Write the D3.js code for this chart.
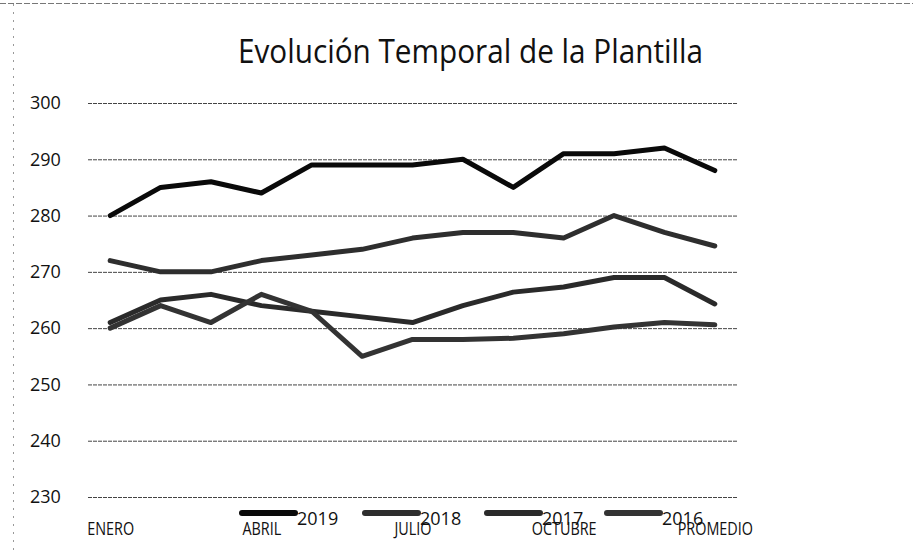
<!DOCTYPE html>
<html><head><meta charset="utf-8">
<script src="https://cdn.jsdelivr.net/npm/d3@7"></script>
<style>body{margin:0;background:#fff}svg{display:block}</style>
</head><body>
<svg id="c" width="913" height="551"></svg>
<script>
const months = ["ENERO","FEBRERO","MARZO","ABRIL","MAYO","JUNIO","JULIO","AGOSTO","SEPTIEMBRE","OCTUBRE","NOVIEMBRE","DICIEMBRE","PROMEDIO"];
const shownLabels = ["ENERO","ABRIL","JULIO","OCTUBRE","PROMEDIO"];
const yTicks = [230,240,250,260,270,280,290,300];
const seriesNames = ["2019","2018","2017","2016"];
const v2019 = [280,285,286,284,289,289,289,290,285,291,291,292,288];
const v2018 = [272,270,270,272,273,274,276,277,277,276,280,277,274.6];
const v2017 = [261,265,266,264,263,262,261,264,266.4,267.3,269,269,264.3];
const v2016 = [260,264,261,266,263,255,258,258,258.2,259,260.2,261,260.6];
const seriesValues = [v2019,v2018,v2017,v2016];
const seriesColors = ["#0a0a0a","#2e2e2e","#2a2a2a","#333333"];

const svg = d3.select("#c");
const font = "'Open Sans', sans-serif";

// frame
svg.append("line").attr("x1",0).attr("x2",913).attr("y1",3.5).attr("y2",3.5)
  .attr("stroke","#777").attr("stroke-width",1).attr("stroke-dasharray","6,2");
svg.append("line").attr("x1",13.5).attr("x2",13.5).attr("y1",4).attr("y2",551)
  .attr("stroke","#999").attr("stroke-width",1).attr("stroke-dasharray","2,6");

const x = d3.scalePoint().domain(months).range([85,740]).padding(0.5);
const y = d3.scaleLinear().domain([230,300]).range([497,103]);

// title
svg.append("text").attr("x",238).attr("y",63)
  .attr("font-family",font).attr("font-size",32).attr("fill","#111")
  .attr("textLength",465).attr("lengthAdjust","spacingAndGlyphs")
  .text("Evolución Temporal de la Plantilla");

// gridlines + y labels
const yAxis = d3.axisLeft(y).tickValues(yTicks).tickSize(-650).tickPadding(0);
const gy = svg.append("g").attr("transform","translate(88,0)").call(yAxis);
gy.select(".domain").remove();
gy.selectAll(".tick line").attr("stroke","#444").attr("stroke-width",1).attr("stroke-dasharray","4,1");
gy.selectAll(".tick text").attr("font-family",font).attr("font-size",18).attr("fill","#111")
  .attr("text-anchor","start").attr("x",-58);

// x labels
const xAxis = d3.axisBottom(x).tickValues(shownLabels).tickSize(0).tickPadding(0);
const gx = svg.append("g").attr("transform","translate(0,535)").call(xAxis);
gx.select(".domain").remove();
gx.selectAll(".tick text").attr("font-family",font).attr("font-size",18).attr("fill","#111")
  .attr("dy",0).attr("y",0).attr("transform","scale(0.8,1)");

// lines
const line = d3.line().x((d,i)=>x(months[i])).y(d=>y(d));
seriesValues.forEach((vals,k)=>{
  svg.append("path").datum(vals).attr("d",line).attr("fill","none")
    .attr("stroke",seriesColors[k]).attr("stroke-width",5)
    .attr("stroke-linejoin","round").attr("stroke-linecap","round");
});

// legend
const legendX = d3.scaleOrdinal().domain(seriesNames).range([240,363,485,605]);
seriesNames.forEach((n,k)=>{
  const lx = legendX(n);
  svg.append("line").attr("x1",lx+2).attr("x2",lx+55).attr("y1",513).attr("y2",513)
    .attr("stroke",seriesColors[k]).attr("stroke-width",6).attr("stroke-linecap","round");
  svg.append("text").attr("x",lx+57).attr("y",525).attr("font-family",font)
    .attr("font-size",18).attr("fill","#111").text(n);
});
</script>
</body></html>
